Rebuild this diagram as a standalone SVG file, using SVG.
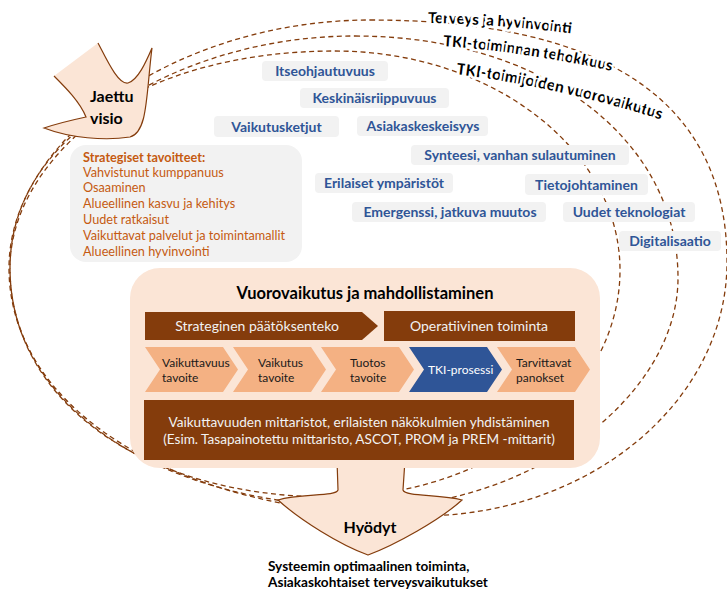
<svg xmlns="http://www.w3.org/2000/svg" width="727" height="590" viewBox="0 0 727 590">
<defs>
<style>
text{font-family:Lato,"Liberation Sans",sans-serif}
.loop{fill:none;stroke:#843C0C;stroke-width:1.3;stroke-dasharray:5 3.5}
.lbl rect{fill:#F2F2F2}
.lbl text{fill:#2F5597;font-weight:bold;font-size:14px;text-anchor:middle}
.strat{fill:#C55A11;font-size:12.7px}
.curve{font-weight:bold;font-size:15px;fill:#000;stroke:#fff;stroke-width:5;stroke-linejoin:round;paint-order:stroke}
.brown{fill:#843C0C}
.wt{fill:#F2F2F2;font-size:14px;text-anchor:middle}
.chev{fill:#F4B183}
.ct{fill:#1a1a1a;font-size:12px}
.bold{font-weight:bold;fill:#000}
</style>
<path id="p1" d="M428,23 Q505,24 590,36"/>
<path id="p2" d="M443,46 Q530,52 625,74"/>
<path id="p3" d="M456,74 Q560,87 672,123"/>
</defs>
<g id="connectors">
<path class="loop" d="M370,20 C606,20 727,102 727,262 C727,402 589,516 420,516 C182,516 9,412 9,268 C9,137 179,20 370,20 Z"/>
<path class="loop" d="M355,36 C542,36 678,138 678,278 C678,397 530,507 370,507 C161,507 10,407 10,268 C10,145 172,36 355,36 Z"/>
<path class="loop" d="M335,51 C492,51 620,150 620,270 C620,395 490,497 330,497 C144,497 10,401 10,268 C10,142 147,51 335,51 Z"/>
</g>
<g id="curve-labels">
<text class="curve"><textPath href="#p1">Terveys ja hyvinvointi</textPath></text>
<text class="curve"><textPath href="#p2">TKI-toiminnan tehokkuus</textPath></text>
<text class="curve" style="font-size:15.5px"><textPath href="#p3">TKI-toimijoiden vuorovaikutus</textPath></text>
</g>
<g id="jaettu-visio">
<path d="M98,43 L54,76 C66,88 80,102 86,117 C72,120 56,124 44,128 C70,138 105,141 130,137 C148,132 146,95 152,48 C146,62 138,80 128,83 C118,85 106,58 98,43 Z" fill="#FBE5D6"/>
<path d="M54,76 C66,88 80,102 86,117 C72,120 56,124 44,128 C70,138 105,141 130,137 C148,132 146,95 152,48 C146,62 138,80 128,83 C118,85 106,58 98,43" fill="none" stroke="#843C0C" stroke-width="1.2"/>
<text class="bold" x="90" y="102" font-size="16">Jaettu</text>
<text class="bold" x="90" y="124" font-size="16">visio</text>
</g>
<g id="strategiset">
<rect x="70" y="145" width="232" height="117" rx="16" fill="#F2F2F2"/>
<text class="strat" x="83" y="162" font-weight="bold" font-size="14.6">Strategiset tavoitteet:</text>
<text class="strat" x="83" y="177">Vahvistunut kumppanuus</text>
<text class="strat" x="83" y="192">Osaaminen</text>
<text class="strat" x="83" y="208">Alueellinen kasvu ja kehitys</text>
<text class="strat" x="83" y="224">Uudet ratkaisut</text>
<text class="strat" x="83" y="240">Vaikuttavat palvelut ja toimintamallit</text>
<text class="strat" x="83" y="256">Alueellinen hyvinvointi</text>
</g>
<g id="lbl-itseohjautuvuus" class="lbl"><rect x="262" y="61" width="126" height="20" rx="4"/><text x="325" y="76">Itseohjautuvuus</text></g>
<g id="lbl-keskinaisriippuvuus" class="lbl"><rect x="300" y="88" width="149" height="20" rx="4"/><text x="374.5" y="103">Keskinäisriippuvuus</text></g>
<g id="lbl-vaikutusketjut" class="lbl"><rect x="214" y="116" width="125" height="21" rx="4"/><text x="276.5" y="131.5">Vaikutusketjut</text></g>
<g id="lbl-asiakaskeskeisyys" class="lbl"><rect x="357" y="116" width="131" height="20" rx="4"/><text x="423" y="131">Asiakaskeskeisyys</text></g>
<g id="lbl-synteesi" class="lbl"><rect x="411" y="145" width="218" height="20" rx="4"/><text x="520" y="160">Synteesi, vanhan sulautuminen</text></g>
<g id="lbl-erilaiset" class="lbl"><rect x="315" y="173" width="138" height="20" rx="4"/><text x="384" y="188">Erilaiset ympäristöt</text></g>
<g id="lbl-tietojohtaminen" class="lbl"><rect x="525" y="174" width="123" height="21" rx="4"/><text x="586.5" y="189.5">Tietojohtaminen</text></g>
<g id="lbl-emergenssi" class="lbl"><rect x="352" y="202" width="194" height="20" rx="4"/><text x="450" y="217">Emergenssi, jatkuva muutos</text></g>
<g id="lbl-uudet" class="lbl"><rect x="563" y="202" width="132" height="20" rx="4"/><text x="629" y="217">Uudet teknologiat</text></g>
<g id="lbl-digitalisaatio" class="lbl"><rect x="619" y="231" width="102" height="20" rx="4"/><text x="670" y="246">Digitalisaatio</text></g>
<g id="hyodyt">
<path d="M337,460 L338,490 C336,497 300,493 278,500 C300,520 340,545 368,555 C395,545 440,520 462,500 C440,494 405,497 403,490 L405,460 Z" fill="#FBE5D6"/>
<path d="M337,460 L338,490 C336,497 300,493 278,500 C300,520 340,545 368,555 C395,545 440,520 462,500 C440,494 405,497 403,490 L405,460" fill="none" stroke="#843C0C" stroke-width="1.2"/>
<text class="bold" x="370" y="533" font-size="16" text-anchor="middle">Hyödyt</text>
</g>
<g id="vuorovaikutus">
<rect x="130" y="268" width="470" height="200" rx="30" fill="#FBE5D6"/>
<text class="bold" x="365" y="299" font-size="16.5" text-anchor="middle">Vuorovaikutus ja mahdollistaminen</text>
</g>
<g id="strateginen">
<path class="brown" d="M145,312 H362 L378,326 L362,340 H145 Z"/>
<text class="wt" x="257" y="331">Strateginen päätöksenteko</text>
</g>
<g id="operatiivinen">
<rect class="brown" x="384" y="311" width="191" height="30"/>
<text class="wt" x="479" y="331">Operatiivinen toiminta</text>
</g>
<g id="chev-vaikuttavuus">
<path class="chev" d="M145,347 H223 L238,369.5 L223,392 H145 L160,369.5 Z"/>
<text class="ct" x="162" y="367">Vaikuttavuus</text><text class="ct" x="162" y="382">tavoite</text>
</g>
<g id="chev-vaikutus">
<path class="chev" d="M233,347 H311 L326,369.5 L311,392 H233 L248,369.5 Z"/>
<text class="ct" x="258" y="367">Vaikutus</text><text class="ct" x="258" y="382">tavoite</text>
</g>
<g id="chev-tuotos">
<path class="chev" d="M321,347 H399 L414,369.5 L399,392 H321 L336,369.5 Z"/>
<text class="ct" x="350" y="367">Tuotos</text><text class="ct" x="350" y="382">tavoite</text>
</g>
<g id="chev-tki">
<path d="M409,347 H487 L502,369.5 L487,392 H409 L424,369.5 Z" fill="#2F5597"/>
<text class="ct" x="428" y="374" style="fill:#fff">TKI-prosessi</text>
</g>
<g id="chev-tarvittavat">
<path class="chev" d="M497,347 H575 L590,369.5 L575,392 H497 L512,369.5 Z"/>
<text class="ct" x="516" y="367">Tarvittavat</text><text class="ct" x="516" y="382">panokset</text>
</g>
<g id="mittaristot">
<rect class="brown" x="144" y="400" width="430" height="60"/>
<text class="wt" x="359" y="427" style="font-size:13.6px">Vaikuttavuuden mittaristot, erilaisten näkökulmien yhdistäminen</text>
<text class="wt" x="359" y="444" style="font-size:13.6px">(Esim. Tasapainotettu mittaristo, ASCOT, PROM ja PREM -mittarit)</text>
</g>
<g id="tulos">
<text class="bold" x="268" y="571" font-size="13.6">Systeemin optimaalinen toiminta,</text>
<text class="bold" x="268" y="587" font-size="13.6">Asiakaskohtaiset terveysvaikutukset</text>
</g>
</svg>
